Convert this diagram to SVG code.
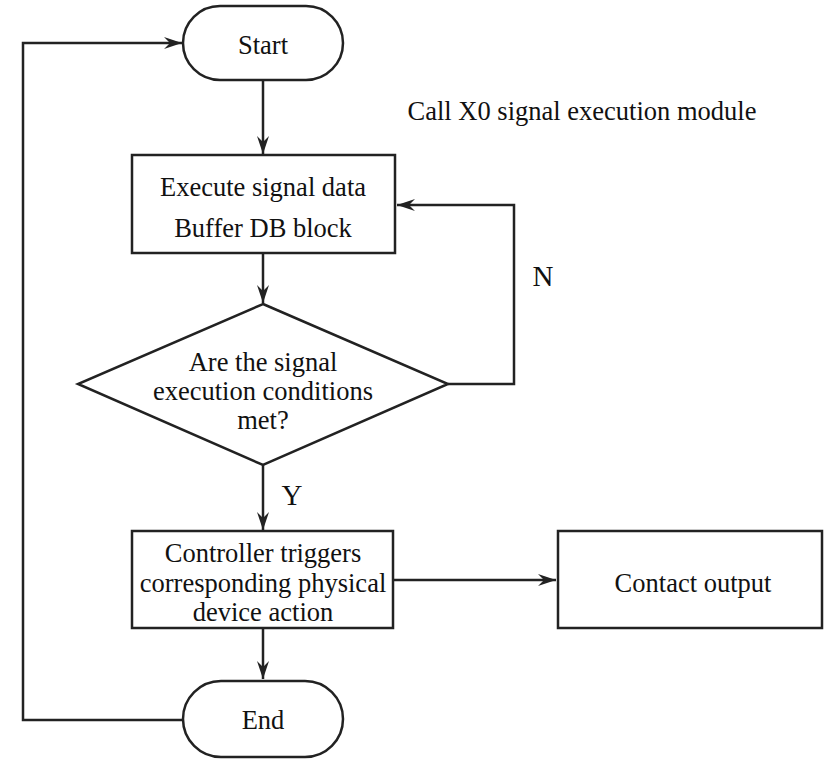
<svg xmlns="http://www.w3.org/2000/svg" width="840" height="760" viewBox="0 0 840 760">
<defs>
<style>
.s{fill:#fff;stroke:#222;stroke-width:2.5}
.c{fill:none;stroke:#222;stroke-width:2.5}
text{font-family:"Liberation Serif","Times New Roman",serif;font-size:26.5px;fill:#111;text-anchor:middle}
</style>
<marker id="a" viewBox="0 0 18 12" refX="18" refY="6" markerWidth="18" markerHeight="12" markerUnits="userSpaceOnUse" orient="auto">
<path d="M0,0 L18,6 L0,12 L6,6 z" fill="#222"/>
</marker>
</defs>
<rect width="840" height="760" fill="#fff"/>
<g id="connectors">
<path class="c" d="M263,80 V154" marker-end="url(#a)"/>
<path class="c" d="M263,253 V303" marker-end="url(#a)"/>
<path class="c" d="M448,384 H514 V205 H397" marker-end="url(#a)"/>
<path class="c" d="M263,465 V530" marker-end="url(#a)"/>
<path class="c" d="M393,580 H556" marker-end="url(#a)"/>
<path class="c" d="M263,628 V679" marker-end="url(#a)"/>
<path class="c" d="M183,720 H23 V43 H182" marker-end="url(#a)"/>
<text x="543" y="286" style="font-size:29px">N</text>
<text x="292" y="505" style="font-size:29px">Y</text>
</g>
<g id="start">
<rect class="s" x="183" y="6" width="160" height="74" rx="37"/>
<text x="263" y="54">Start</text>
</g>
<g id="note">
<text x="582" y="120">Call X0 signal execution module</text>
</g>
<g id="execute">
<rect class="s" x="132" y="155" width="263" height="98"/>
<text x="263" y="196">Execute signal data</text>
<text x="263" y="237">Buffer DB block</text>
</g>
<g id="decision">
<polygon class="s" points="263,304 448,384 263,465 78,384"/>
<text x="263" y="371">Are the signal</text>
<text x="263" y="400">execution conditions</text>
<text x="263" y="429">met?</text>
</g>
<g id="controller">
<rect class="s" x="132" y="531" width="261" height="97"/>
<text x="263" y="562">Controller triggers</text>
<text x="263" y="592">corresponding physical</text>
<text x="263" y="621">device action</text>
</g>
<g id="contact">
<rect class="s" x="558" y="531" width="264" height="97"/>
<text x="693" y="592">Contact output</text>
</g>
<g id="end">
<rect class="s" x="183" y="681" width="160" height="76" rx="38"/>
<text x="263" y="729">End</text>
</g>
</svg>
